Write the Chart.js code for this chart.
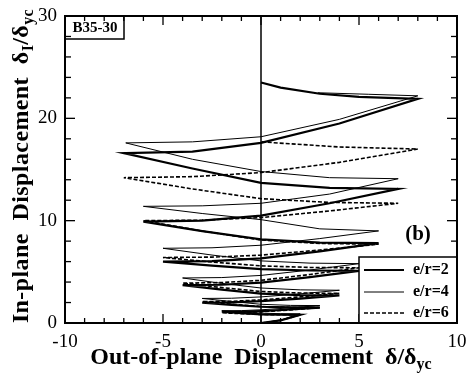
<!DOCTYPE html>
<html>
<head>
<meta charset="utf-8">
<script src="https://cdn.jsdelivr.net/npm/chart.js@4"></script>
<style>
html, body { margin: 0; padding: 0; background: #fff; }
</style>
</head>
<body>
<canvas id="myChart" width="467" height="373"></canvas>
<script>
// e/r=2 (thick solid)
var er2X = [0, 1, 2, 1, 0, -1, -2, -1, 0, 1.5, 3, 1.5, 0, -1.5, -3, -1.5, 0, 2, 4, 2, 0, -2, -4, -2, 0, 2.5, 5, 2.5, 0, -2.5, -5, -2.5, 0, 3, 6, 3, 0, -3, -6, -3, 0, 3.5, 7, 3.5, 0, -3.5, -7, -3.5, 0, 4, 8, 5, 3, 1, 0];
var er2Y = [0, 0.25, 0.8, 0.81, 0.85, 0.97, 1.1, 1.11, 1.17, 1.32, 1.5, 1.52, 1.59, 1.78, 2.0, 2.02, 2.13, 2.39, 2.7, 2.73, 2.88, 3.26, 3.7, 3.74, 3.95, 4.48, 5.1, 5.13, 5.26, 5.6, 6.0, 6.05, 6.32, 7.0, 7.8, 7.86, 8.18, 8.98, 9.9, 10.0, 10.5, 11.7, 13.1, 13.2, 13.7, 15.1, 16.6, 16.75, 17.6, 19.5, 21.9, 22.1, 22.4, 23.0, 23.5];
// e/r=4 (thin solid)
var er4X = [0, 1, 2, 1, 0, -1, -2, -1, 0, 1.5, 3, 1.5, 0, -1.5, -3, -1.5, 0, 2, 4, 2, 0, -2, -4, -2, 0, 2.5, 5, 2.5, 0, -2.5, -5, -2.5, 0, 3, 6, 3, 0, -3, -6, -3, 0, 3.5, 7, 3.5, 0, -3.5, -6.9, -3.5, 0, 4, 8, 5.5, 2.9];
var er4Y = [0, 0.3, 0.9, 0.91, 0.96, 1.07, 1.2, 1.21, 1.29, 1.48, 1.7, 1.72, 1.83, 2.1, 2.4, 2.42, 2.55, 2.85, 3.2, 3.24, 3.42, 3.87, 4.4, 4.44, 4.65, 5.18, 5.8, 5.85, 6.07, 6.64, 7.3, 7.35, 7.6, 8.25, 9.0, 9.2, 10.1, 10.7, 11.4, 11.45, 11.7, 12.6, 14.1, 14.2, 14.8, 16.0, 17.6, 17.7, 18.2, 19.9, 22.2, 22.35, 22.5];
// e/r=6 (dashed)
var er6X = [0, 1, 2, 1, 0, -1, -2, -1, 0, 1.5, 3, 1.5, 0, -1.5, -3, -1.5, 0, 2, 4, 2, 0, -2, -4, -2, 0, 2.5, 5, 2.5, 0, -2.5, -5, -2.5, 0, 3, 6, 3, 0, -3, -6, -3, 0, 3.5, 7, 3.5, 0, -3.5, -7, -3.5, 0, 4, 8, 4, 0];
var er6Y = [0, 0.25, 0.8, 0.8, 0.83, 0.91, 1.0, 1.02, 1.09, 1.28, 1.5, 1.52, 1.61, 1.84, 2.1, 2.12, 2.26, 2.55, 2.9, 2.93, 3.08, 3.46, 3.9, 3.95, 4.17, 4.74, 5.4, 5.43, 5.58, 5.96, 6.4, 6.44, 6.63, 7.13, 7.7, 7.77, 8.11, 8.99, 10.0, 10.05, 10.3, 10.95, 11.7, 11.78, 12.15, 13.1, 14.2, 14.3, 14.7, 15.7, 17.0, 17.2, 17.7];

var seriesNames = ['e/r=2', 'e/r=4', 'e/r=6'];
var xTickLabels = [-10, -5, 0, 5, 10];
var yTickLabels = [0, 10, 20, 30];
var xMinorTicks = [-10, -9, -8, -7, -6, -5, -4, -3, -2, -1, 0, 1, 2, 3, 4, 5, 6, 7, 8, 9, 10];
var yMinorTicks = [0, 2, 4, 6, 8, 10, 12, 14, 16, 18, 20, 22, 24, 26, 28, 30];

var serif = '"Liberation Serif", "Times New Roman", serif';

function pts(xs, ys) {
    return xs.map(function (x, i) { return { x: x, y: ys[i] }; });
}

// draws text made of normal and subscript pieces, centred on cx
function drawParts(ctx, parts, cx, baseY, size, subSize, spacing) {
    ctx.letterSpacing = spacing + 'px';
    var total = 0;
    parts.forEach(function (p) {
        ctx.font = 'bold ' + (p[1] ? subSize : size) + 'px ' + serif;
        total += ctx.measureText(p[0]).width;
    });
    var x = cx - total / 2;
    ctx.textAlign = 'left';
    ctx.textBaseline = 'alphabetic';
    parts.forEach(function (p) {
        ctx.font = 'bold ' + (p[1] ? subSize : size) + 'px ' + serif;
        ctx.fillText(p[0], x, baseY + (p[1] ? 5 : 0));
        x += ctx.measureText(p[0]).width;
    });
    ctx.letterSpacing = '0px';
}

var decor = {
    id: 'decor',
    afterDraw: function (chart) {
        var ctx = chart.ctx, a = chart.chartArea;
        var xs = chart.scales.x, ys = chart.scales.y;
        ctx.save();
        ctx.strokeStyle = '#000';
        ctx.fillStyle = '#000';

        function seg(x1, y1, x2, y2) {
            ctx.beginPath(); ctx.moveTo(x1, y1); ctx.lineTo(x2, y2); ctx.stroke();
        }

        // zero line
        ctx.lineWidth = 1.5;
        var x0 = xs.getPixelForValue(0);
        seg(x0, a.top, x0, a.bottom);

        // inward ticks on all four sides
        ctx.lineWidth = 1.3;
        xMinorTicks.forEach(function (v) {
            var p = xs.getPixelForValue(v);
            var len = v % 5 === 0 ? 9 : 5;
            seg(p, a.bottom, p, a.bottom - len);
            seg(p, a.top, p, a.top + len);
        });
        yMinorTicks.forEach(function (v) {
            var p = ys.getPixelForValue(v);
            var len = v % 10 === 0 ? 10 : 6;
            seg(a.left, p, a.left + len, p);
            seg(a.right, p, a.right - len, p);
        });

        // legend box
        var lx = xs.getPixelForValue(5), ly = a.bottom - 66;
        ctx.fillStyle = '#fff';
        ctx.fillRect(lx, ly, a.right - lx, a.bottom - ly);
        ctx.lineWidth = 1.5;
        ctx.strokeRect(lx, ly, a.right - lx, a.bottom - ly);
        var rows = [ly + 13, ly + 35, ly + 56];
        var styles = [[2.2, []], [1, []], [1.6, [4, 2]]];
        ctx.fillStyle = '#000';
        rows.forEach(function (ry, i) {
            ctx.lineWidth = styles[i][0];
            ctx.setLineDash(styles[i][1]);
            seg(lx + 5, ry, lx + 45, ry);
            ctx.setLineDash([]);
            ctx.font = 'bold 16px ' + serif;
            ctx.textAlign = 'left';
            ctx.textBaseline = 'middle';
            ctx.fillText(seriesNames[i], lx + 54, ry);
        });

        // specimen label
        ctx.lineWidth = 1.5;
        ctx.strokeRect(a.left, a.top, 59, 23);
        ctx.font = 'bold 15px ' + serif;
        ctx.textAlign = 'center';
        ctx.textBaseline = 'middle';
        ctx.fillText('B35-30', a.left + 30, a.top + 12);

        // panel label
        ctx.font = 'bold 21px ' + serif;
        ctx.fillText('(b)', 418, 235);

        // frame
        ctx.lineWidth = 2;
        ctx.strokeRect(a.left, a.top, a.right - a.left, a.bottom - a.top);

        // axis titles
        drawParts(ctx, [['Out-of-plane  Displacement  \u03b4/\u03b4', 0], ['yc', 1]],
            (a.left + a.right) / 2, 364, 24, 16, 0);
        ctx.save();
        ctx.translate(28, 166);
        ctx.rotate(-Math.PI / 2);
        drawParts(ctx, [['In-plane  Displacement  \u03b4', 0], ['I', 1], ['/\u03b4', 0], ['yc', 1]],
            0, 0, 24, 16, 0.4);
        ctx.restore();

        ctx.restore();
    }
};

var chart = new Chart(document.getElementById('myChart').getContext('2d'), {
    type: 'scatter',
    data: {
        datasets: [{
            label: seriesNames[0],
            data: pts(er2X, er2Y),
            showLine: true,
            borderColor: '#000',
            borderWidth: 2.2,
            pointRadius: 0,
            tension: 0
        }, {
            label: seriesNames[1],
            data: pts(er4X, er4Y),
            showLine: true,
            borderColor: '#000',
            borderWidth: 1,
            pointRadius: 0,
            tension: 0
        }, {
            label: seriesNames[2],
            data: pts(er6X, er6Y),
            showLine: true,
            borderColor: '#000',
            borderWidth: 1.6,
            borderDash: [4, 2],
            pointRadius: 0,
            tension: 0
        }]
    },
    options: {
        responsive: false,
        animation: false,
        devicePixelRatio: 1,
        layout: { padding: { top: 16, right: 10, left: 0, bottom: 0 } },
        plugins: { legend: { display: false }, tooltip: { enabled: false } },
        scales: {
            x: {
                type: 'linear',
                min: -10,
                max: 10,
                afterFit: function (s) { s.height = 50; s.paddingLeft = 0; s.paddingRight = 0; },
                afterBuildTicks: function (s) { s.ticks = xTickLabels.map(function (v) { return { value: v }; }); },
                grid: { display: false, drawTicks: false },
                border: { display: false },
                ticks: { color: '#000', padding: 8, font: { family: serif, size: 19 } }
            },
            y: {
                type: 'linear',
                min: 0,
                max: 30,
                afterFit: function (s) { s.width = 65; s.paddingTop = 0; s.paddingBottom = 0; },
                afterBuildTicks: function (s) { s.ticks = yTickLabels.map(function (v) { return { value: v }; }); },
                grid: { display: false, drawTicks: false },
                border: { display: false },
                ticks: { color: '#000', padding: 8, font: { family: serif, size: 19 } }
            }
        }
    },
    plugins: [decor]
});
</script>
</body>
</html>
